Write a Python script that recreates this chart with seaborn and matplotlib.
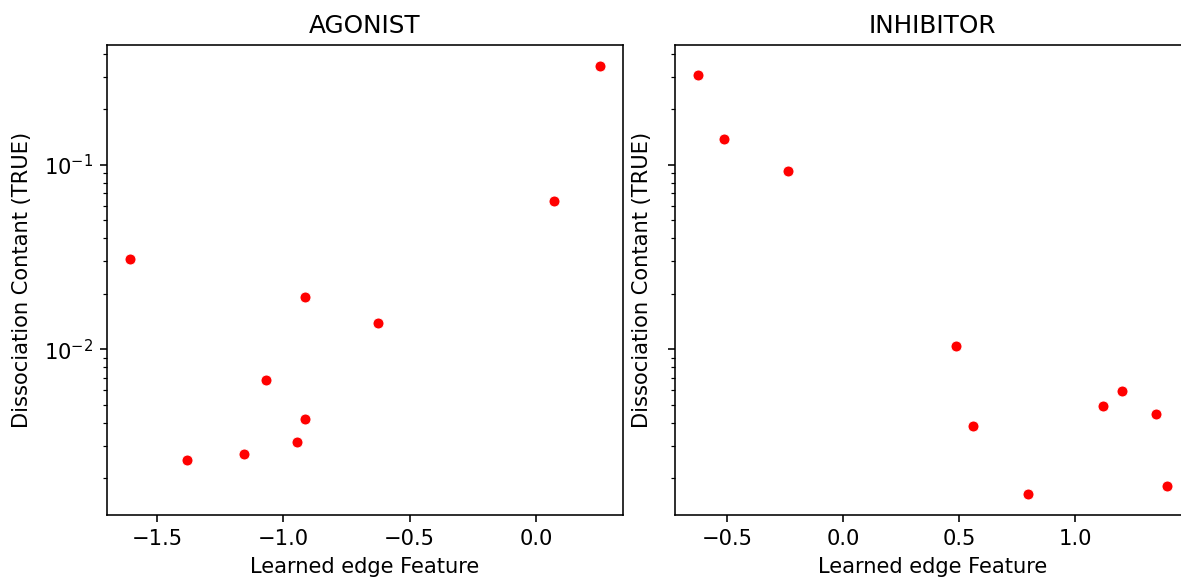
import matplotlib
matplotlib.use("Agg")
import matplotlib.pyplot as plt
import seaborn as sns
import pandas as pd

# values
agonist_x = [-1.605, -1.383, -1.157, -1.070, -0.947, -0.914, -0.914, -0.625, 0.069, 0.251]
agonist_y = [0.0308, 0.00252, 0.00272, 0.00679, 0.00313, 0.0192, 0.00417, 0.0138, 0.0637, 0.341]
inhibitor_x = [-0.625, -0.513, -0.237, 0.487, 0.560, 0.797, 1.121, 1.203, 1.349, 1.397]
inhibitor_y = [0.308, 0.138, 0.0927, 0.0104, 0.00386, 0.00165, 0.00490, 0.00592, 0.00444, 0.00182]

panels = [
    ("AGONIST", agonist_x, agonist_y),
    ("INHIBITOR", inhibitor_x, inhibitor_y),
]

W, H = 1181, 583
dpi = 144
fig = plt.figure(figsize=(W / dpi, H / dpi), dpi=dpi)

# axes boxes in pixels (left, bottom-from-top, width, height)
boxes = [(107, 515, 516, 470), (674.5, 515, 516, 470)]

axes = []
for i, ((title, xs, ys), (l, b, w, h)) in enumerate(zip(panels, boxes)):
    ax = fig.add_axes([l / W, (H - b) / H, w / W, h / H],
                      sharey=axes[0] if axes else None)
    df = pd.DataFrame({"x": xs, "y": ys})
    sns.scatterplot(data=df, x="x", y="y", color="red", s=30, ax=ax)
    ax.set_yscale("log")
    ax.set_title(title, fontsize=12.4)
    ax.set_xlabel("Learned edge Feature", fontsize=10.5)
    ax.set_ylabel("Dissociation Contant (TRUE)", fontsize=10.5, labelpad=6)
    ax.tick_params(labelsize=10.5)
    if i > 0:
        ax.tick_params(labelleft=False)
    axes.append(ax)

fig.savefig("out.png", dpi=dpi)
